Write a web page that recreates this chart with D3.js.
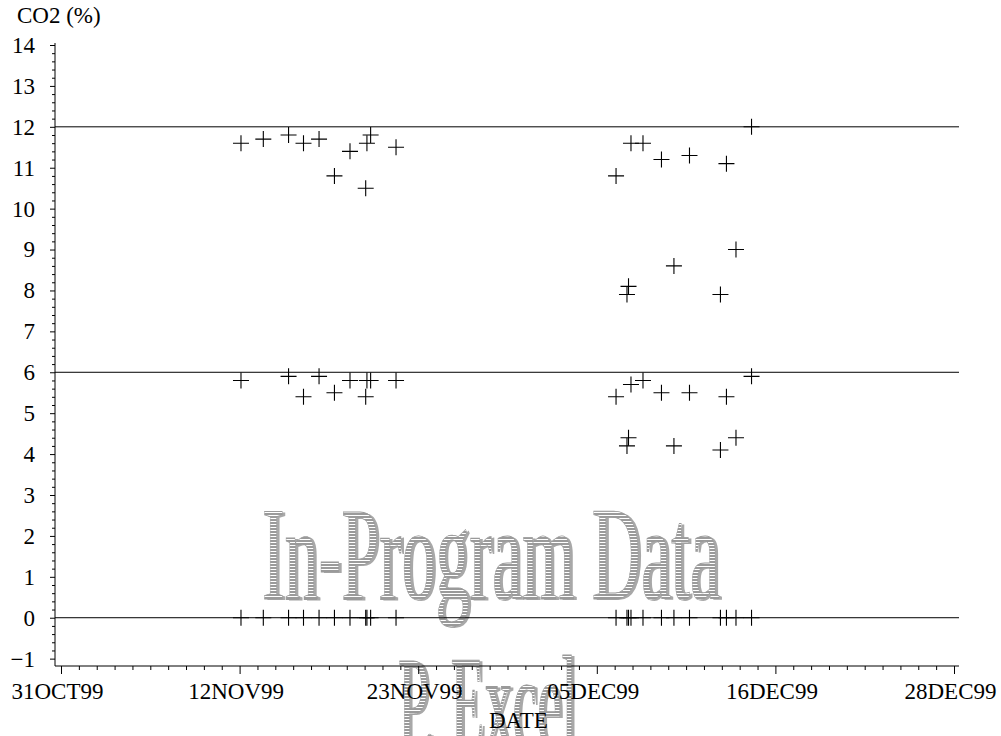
<!DOCTYPE html>
<html><head><meta charset="utf-8">
<script src="https://cdn.jsdelivr.net/npm/d3@7"></script>
<style>
body{margin:0;background:#fff}
svg{display:block}
</style>
</head><body>
<svg id="c" width="1001" height="736"></svg>
<script>
// ---- data (days after 31OCT99, fractional) ----
const dayOffset = [11.69, 13.14, 14.78, 15.75, 16.76, 17.76, 18.77, 19.79, 19.87, 20.11, 21.76,
                   36.05, 36.76, 36.86, 37.02, 37.80, 39.00, 39.81, 40.82, 42.83, 43.22, 43.84, 44.85];
const co2High = [11.6, 11.7, 11.8, 11.6, 11.7, 10.8, 11.4, 10.5, 11.6, 11.8, 11.5,
                 10.8, 7.9, 8.1, 11.6, 11.6, 11.2, 8.6, 11.3, 7.9, 11.1, 9.0, 12.0];
const co2Low  = [5.8, null, 5.9, 5.4, 5.9, 5.5, 5.8, 5.4, 5.8, 5.8, 5.8,
                 5.4, 4.2, 4.4, 5.7, 5.8, 5.5, 4.2, 5.5, 4.1, 5.4, 4.4, 5.9];
const co2Zero = [0, 0, 0, 0, 0, 0, 0, 0, 0, 0, 0,
                 0, 0, 0, 0, 0, 0, 0, 0, 0, 0, 0, 0];
const xTickLabels = ["31OCT99", "12NOV99", "23NOV99", "05DEC99", "16DEC99", "28DEC99"];
const xTickDays = [0, 11.6, 23.2, 34.8, 46.4, 58];
const yTickValues = [-1, 0, 1, 2, 3, 4, 5, 6, 7, 8, 9, 10, 11, 12, 13, 14];
const refLines = [0, 6, 12];
const yTitle = "CO2 (%)";
const xTitle = "DATE";
const watermark1 = "In-Program Data";
const watermark2 = "P. Excel";

const SERIF = "'Liberation Serif', 'Times New Roman', Times, 'DejaVu Serif', serif";
const svg = d3.select("#c").attr("font-family", SERIF);
const FONT = 23;

const x = d3.scaleLinear().domain([0, 58]).range([61, 954]);
const y = d3.scaleLinear().domain([-1.18, 14]).range([666, 45]);

// ---- watermark ----
const defs = svg.append("defs");
const pat = defs.append("pattern").attr("id", "stripes").attr("patternUnits", "userSpaceOnUse")
  .attr("width", 8).attr("height", 3);
pat.append("rect").attr("width", 8).attr("height", 3).attr("fill", "#fff");
pat.append("rect").attr("width", 8).attr("height", 2).attr("fill", "#9a9a9a");

const wm = svg.append("g").attr("font-family", SERIF);
function drawWM(txt, x0, w, base, size) {
  wm.append("text").attr("x", x0 + 3).attr("y", base + 1).attr("font-size", size)
    .attr("textLength", w).attr("lengthAdjust", "spacingAndGlyphs")
    .attr("fill", "#a8a8a8").text(txt);
  wm.append("text").attr("x", x0).attr("y", base).attr("font-size", size)
    .attr("textLength", w).attr("lengthAdjust", "spacingAndGlyphs")
    .attr("fill", "url(#stripes)").attr("stroke", "#9a9a9a").attr("stroke-width", 0.8).text(txt);
}
drawWM(watermark1, 262, 458, 599, 134);
drawWM(watermark2, 398, 179, 748, 134);

// ---- reference lines ----
svg.append("g").selectAll("line").data(refLines).join("line")
  .attr("x1", 55).attr("x2", 959)
  .attr("y1", d => y(d)).attr("y2", d => y(d))
  .attr("stroke", "#000").attr("stroke-width", 1);

// ---- axes ----
const minorX = d3.range(0, 51).map(i => i * 1.16).filter((d, i) => i % 10 !== 0);
const minorY = d3.range(-1, 14.001, 0.2).filter(d => Math.abs(d - Math.round(d)) > 1e-6);

const gx = svg.append("g").attr("transform", "translate(0,666)");
gx.append("g").call(d3.axisBottom(x).tickValues(minorX).tickSize(4).tickFormat(""))
  .call(g => g.select(".domain").remove());
gx.append("g").call(d3.axisBottom(x).tickValues(xTickDays).tickSize(8).tickSizeOuter(0)
    .tickFormat((d, i) => xTickLabels[i]))
  .attr("font-family", SERIF).attr("font-size", FONT)
  .call(g => g.select(".domain").remove())
  .call(g => g.selectAll("text").attr("font-size", FONT).attr("font-family", SERIF)
    .attr("x", -4).attr("y", 33).attr("dy", 0).attr("fill", "#000"));
gx.append("line").attr("x1", 55).attr("x2", 959).attr("stroke", "#000");

const gy = svg.append("g").attr("transform", "translate(55,0)");
gy.append("g").call(d3.axisLeft(y).tickValues(minorY).tickSize(3).tickFormat(""))
  .call(g => g.select(".domain").remove());
gy.append("g").call(d3.axisLeft(y).tickValues(yTickValues).tickSize(5).tickPadding(15)
    .tickFormat(d3.format("d")))
  .attr("font-family", SERIF).attr("font-size", FONT)
  .call(g => g.select(".domain").remove())
  .call(g => g.selectAll("text").attr("font-size", FONT).attr("font-family", SERIF).attr("fill", "#000"));
gy.append("line").attr("y1", 43).attr("y2", 666).attr("stroke", "#000");
svg.selectAll(".tick line").attr("stroke", "#000");

// ---- titles ----
svg.append("text").attr("x", 17).attr("y", 23).attr("font-size", FONT).attr("font-family", SERIF).text(yTitle);
svg.append("text").attr("x", 489).attr("y", 728).attr("font-size", FONT).attr("font-family", SERIF).text(xTitle);

// ---- points ----
const pts = [];
dayOffset.forEach((d, i) => {
  [co2High[i], co2Low[i], co2Zero[i]].forEach(v => { if (v !== null) pts.push([d, v]); });
});
svg.append("g").selectAll("path").data(pts).join("path")
  .attr("transform", d => `translate(${x(d[0])},${y(d[1])})`)
  .attr("d", "M-8,0H8M0,-8V8")
  .attr("stroke", "#000").attr("stroke-width", 1.1).attr("fill", "none");
</script>
</body></html>
